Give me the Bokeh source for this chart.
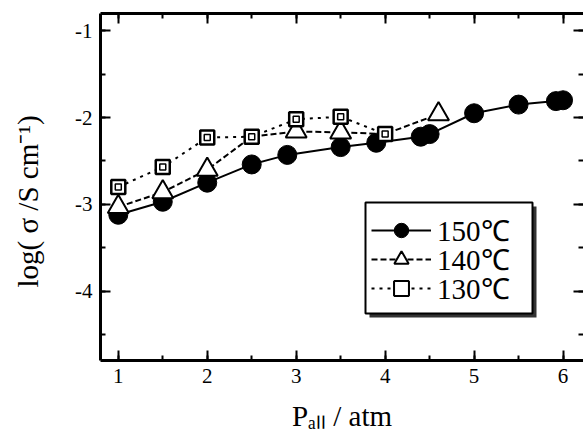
from bokeh.plotting import figure
from bokeh.models import (LinearAxis, SingleIntervalTicker, Range1d, Legend,
                          LegendItem, BoxAnnotation, CustomJSTickFormatter,
                          ColumnDataSource, CDSView, IndexFilter)
from bokeh.embed import file_html
from bokeh.resources import INLINE

# ---- data ----
p150_x = [1.0, 1.5, 2.0, 2.5, 2.9, 3.5, 3.9, 4.4, 4.5, 5.0, 5.5, 5.92, 6.0]
p150_y = [-3.12, -2.97, -2.75, -2.54, -2.43, -2.34, -2.29, -2.22, -2.19,
          -1.95, -1.85, -1.81, -1.80]
p140_x = [1.0, 1.5, 2.0, 2.5, 3.0, 3.5, 4.0, 4.6]
p140_y = [-3.03, -2.86, -2.60, -2.22, -2.16, -2.17, -2.19, -1.96]
p140_marked = [0, 1, 2, 4, 5, 7]   # triangles visible (others hidden under squares)
p130_x = [1.0, 1.5, 2.0, 2.5, 3.0, 3.5, 4.0]
p130_y = [-2.80, -2.57, -2.23, -2.22, -2.02, -1.99, -2.19]
labels = ["150\u2103", "140\u2103", "130\u2103"]
x_title = "P\u2090\u2097\u2097 / atm"
y_title = "log( \u03c3 /S cm\u207b\u00b9)\u2003"

FONT = "Liberation Serif"
FL, FB = 100, 360  # frame left / bottom in canvas px

p = figure(width=583, height=438,
           x_range=Range1d(0.8, 6.23), y_range=Range1d(-4.8, -0.8),
           output_backend="svg", toolbar_location=None,
           x_axis_location=None, y_axis_location=None,
           min_border_left=100, min_border_right=0,
           min_border_top=13, min_border_bottom=78)
p.outline_line_color = None
p.background_fill_color = "white"
p.border_fill_color = "white"
p.grid.visible = False

int_fmt = CustomJSTickFormatter(code="return tick.toFixed(0);")
blank_fmt = CustomJSTickFormatter(code="return '';")


def make_axis(show_labels, draw_line=True):
    ax = LinearAxis(ticker=SingleIntervalTicker(interval=1, num_minor_ticks=2))
    ax.major_tick_in = 10
    ax.major_tick_out = 0
    ax.minor_tick_in = 5
    ax.minor_tick_out = 0
    ax.major_tick_line_width = 2
    ax.minor_tick_line_width = 2
    ax.major_tick_line_color = "black"
    ax.minor_tick_line_color = "black"
    ax.axis_line_width = 3
    ax.axis_line_color = "black" if draw_line else None
    ax.major_label_text_font = FONT
    ax.major_label_text_font_size = "21px"
    ax.major_label_text_color = "black"
    ax.axis_label_text_font = FONT
    ax.axis_label_text_font_style = "normal"
    ax.axis_label_text_font_size = "29px"
    ax.axis_label_text_color = "black"
    if show_labels:
        ax.formatter = int_fmt
    else:
        ax.formatter = blank_fmt
        ax.major_label_standoff = 0
    return ax


bottom = make_axis(True)
bottom.major_label_standoff = 8
bottom.axis_label = x_title
bottom.axis_label_standoff = 14
left = make_axis(True)
left.major_label_standoff = 8
left.axis_label = y_title
left.axis_label_standoff = 28
top = make_axis(False)
right = make_axis(False, draw_line=False)
p.add_layout(bottom, "below")
p.add_layout(left, "left")
p.add_layout(top, "above")
p.add_layout(right, "right")

# ---- series ----
l150 = p.line(p150_x, p150_y, line_color="black", line_width=2)
s150 = p.scatter(p150_x, p150_y, marker="circle", size=19,
                 fill_color="black", line_color="black")

src140 = ColumnDataSource(data=dict(x=p140_x, y=p140_y))
l140 = p.line("x", "y", source=src140, line_color="black", line_width=2,
              line_dash="6 3")
s140 = p.scatter("x", "y", source=src140,
                 view=CDSView(filter=IndexFilter(p140_marked)),
                 marker="triangle", size=21,
                 fill_color="white", line_color="black", line_width=2)

l130 = p.line(p130_x, p130_y, line_color="black", line_width=2, line_dash="3 5")
s130a = p.scatter(p130_x, p130_y, marker="square", size=14,
                  fill_color="white", line_color="black", line_width=2.5)
s130b = p.scatter(p130_x, p130_y, marker="square", size=6,
                  fill_color="white", line_color="black", line_width=1.5)

# ---- legend: framed box with drop shadow, one row per series ----
box_l, box_r, box_t, box_b = 365, 532, 202, 313
shadow = BoxAnnotation(left=box_l + 4 - FL, right=box_r + 4 - FL,
                       top=FB - box_t - 4, bottom=FB - box_b - 4,
                       left_units="screen", right_units="screen",
                       top_units="screen", bottom_units="screen",
                       fill_color="#333333", fill_alpha=1.0, line_color=None)
frame_box = BoxAnnotation(left=box_l - FL, right=box_r - FL,
                          top=FB - box_t, bottom=FB - box_b,
                          left_units="screen", right_units="screen",
                          top_units="screen", bottom_units="screen",
                          fill_color="white", fill_alpha=1.0,
                          line_color="black", line_width=2, line_alpha=1.0)
p.add_layout(shadow)
p.add_layout(frame_box)

row_renderers = [[l150, s150], [l140, s140], [l130, s130a, s130b]]
row_centres = [231, 260, 289]
ITEM_H = 36
for lab, rends, yc in zip(labels, row_renderers, row_centres):
    lg = Legend(items=[LegendItem(label=lab, renderers=rends)],
                location=(371 - FL, FB - (yc + ITEM_H / 2)),
                label_text_font=FONT, label_text_font_size="29px",
                label_text_color="black",
                glyph_width=60, glyph_height=ITEM_H, label_height=ITEM_H,
                label_standoff=6, spacing=0, padding=0, margin=0,
                border_line_color=None, background_fill_alpha=0.0)
    p.add_layout(lg)

open("out.html", "w").write(file_html(p, INLINE))
